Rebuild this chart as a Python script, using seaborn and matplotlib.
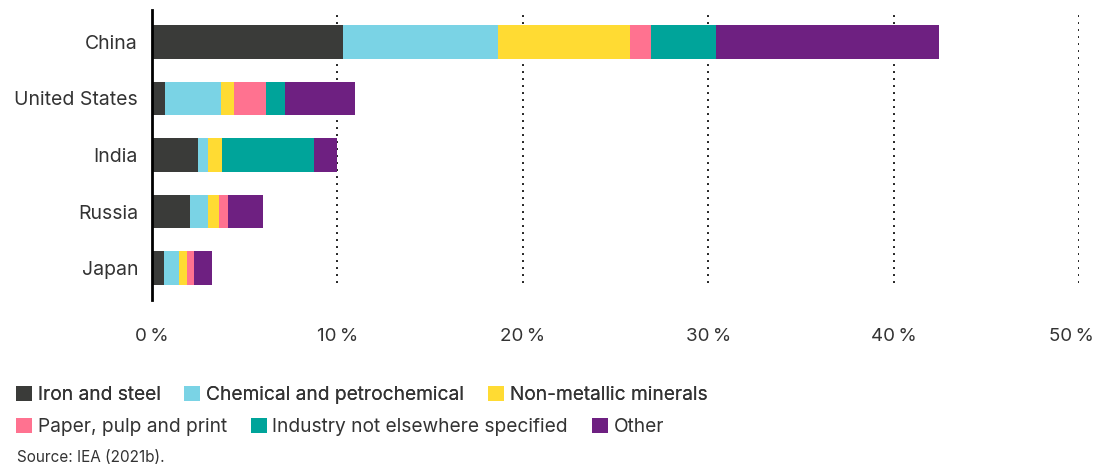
import pandas as pd
import seaborn as sns
import matplotlib.pyplot as plt
import matplotlib.transforms as mtransforms
from matplotlib.patches import Patch

countries = ["China", "United States", "India", "Russia", "Japan"]
sectors = ["Iron and steel", "Chemical and petrochemical", "Non-metallic minerals",
           "Paper, pulp and print", "Industry not elsewhere specified", "Other"]
iron_steel = [10.3, 0.7, 2.5, 2.05, 0.65]
chemical = [8.35, 3.0, 0.5, 0.95, 0.8]
non_metallic = [7.15, 0.7, 0.75, 0.6, 0.45]
paper = [1.1, 1.75, 0.0, 0.5, 0.35]
industry_nes = [3.5, 1.0, 5.0, 0.0, 0.0]
other = [12.05, 3.8, 1.25, 1.9, 1.0]
colors = ["#3a3b39", "#7ad3e5", "#ffdb33", "#ff7290", "#00a49a", "#6e2081"]
ticks = [0, 10, 20, 30, 40, 50]

sns.set_theme(style="white")
plt.rcParams["font.family"] = ["Inter", "DejaVu Sans"]
text_col = "#333333"

df = pd.DataFrame({"country": countries, "Iron and steel": iron_steel,
                   "Chemical and petrochemical": chemical,
                   "Non-metallic minerals": non_metallic,
                   "Paper, pulp and print": paper,
                   "Industry not elsewhere specified": industry_nes,
                   "Other": other})
cum = df[sectors].cumsum(axis=1)
cum["country"] = df["country"]

fig = plt.figure(figsize=(10.97, 4.72), dpi=100)
ax = fig.add_axes([152 / 1097, 1 - 300 / 472, 927 / 1097, 290 / 472])

# stacked bars: draw cumulative totals from the top layer down
for sector, col in reversed(list(zip(sectors, colors))):
    sns.barplot(data=cum, x=sector, y="country", order=countries, color=col,
                orient="h", width=0.6, saturation=1, linewidth=0, ax=ax)

ax.set_xlim(0, 50)
ax.set_ylim(4.566, -0.566)
ax.vlines(ticks[1:], 0.0586, 1, transform=ax.get_xaxis_transform(),
          colors="#222222", linestyles=(0, (1, 2.6)), linewidth=1.4, zorder=0)

for s in ["top", "right", "bottom"]:
    ax.spines[s].set_visible(False)
ax.spines["left"].set_color("black")
ax.spines["left"].set_linewidth(2)

ax.set_xticks(ticks)
ax.set_xticklabels([f"{t}\u2009%" for t in ticks])
ax.tick_params(axis="x", length=0, pad=20, labelsize=13.5, labelcolor=text_col)
ax.tick_params(axis="y", length=0, pad=10, labelsize=14, labelcolor=text_col)
ax.set_xlabel("")
ax.set_ylabel("")

# nudge the last tick label inside the figure like the original
last = ax.get_xticklabels()[-1]
last.set_transform(last.get_transform()
                   + mtransforms.ScaledTranslation(-8 / 100, 0, fig.dpi_scale_trans))

handles = [Patch(facecolor=c, edgecolor="none") for c in colors]
leg_kw = dict(frameon=False, fontsize=13.8, borderpad=0, borderaxespad=0,
              handlelength=0.83, handleheight=0.83, handletextpad=0.3,
              columnspacing=1.25, labelcolor=text_col, loc="center left")
leg1 = fig.legend(handles[:3], sectors[:3], ncol=3,
                  bbox_to_anchor=(16 / 1097, 1 - 395 / 472), **leg_kw)
fig.legend(handles[3:], sectors[3:], ncol=3,
           bbox_to_anchor=(16 / 1097, 1 - 427 / 472), **leg_kw)
fig.add_artist(leg1)

fig.text(17 / 1097, 1 - 458 / 472, "Source: IEA (2021b).", fontsize=11,
         color=text_col, va="center", ha="left")

plt.savefig("out.png", dpi=100)
